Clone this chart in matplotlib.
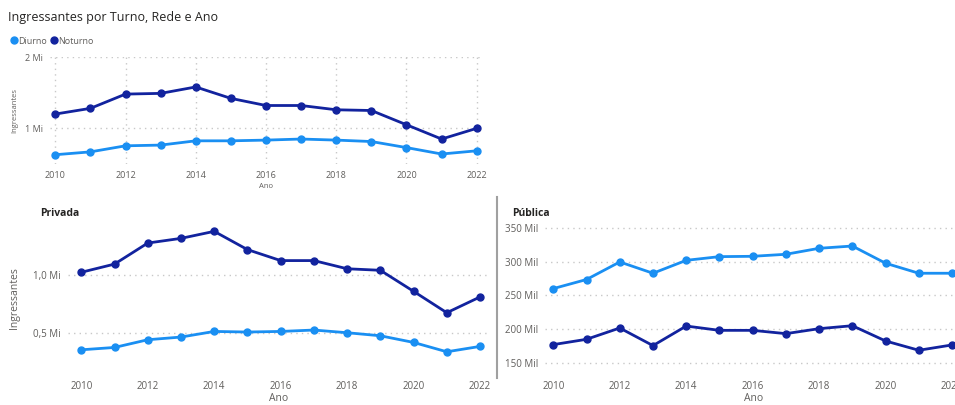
import matplotlib
matplotlib.use("Agg")
import matplotlib.pyplot as plt
from matplotlib.ticker import FixedLocator

plt.rcParams['font.family'] = ['Open Sans', 'DejaVu Sans']

# Dados
anos = list(range(2010, 2023))

# Total (Mi)
total_diurno = [0.63, 0.67, 0.755, 0.765, 0.825, 0.825, 0.835, 0.85, 0.835, 0.815, 0.73, 0.64, 0.685]
total_noturno = [1.20, 1.28, 1.48, 1.49, 1.58, 1.42, 1.32, 1.32, 1.26, 1.25, 1.05, 0.85, 1.00]

# Privada (Mi)
privada_diurno = [0.357, 0.377, 0.443, 0.466, 0.514, 0.509, 0.514, 0.526, 0.503, 0.477, 0.42, 0.34, 0.386]
privada_noturno = [1.02, 1.09, 1.27, 1.31, 1.37, 1.214, 1.12, 1.12, 1.05, 1.037, 0.857, 0.674, 0.809]

# Pública (Mil)
publica_diurno = [260, 273.5, 299.6, 282.8, 302, 307.5, 308, 311, 319.9, 323.3, 297.7, 282.8, 282.8]
publica_noturno = [176.7, 184.6, 201.4, 175.2, 204.3, 197.9, 197.9, 193, 200.4, 204.8, 182.1, 168.3, 176.2]

COR_DIURNO = "#1A8FF2"
COR_NOTURNO = "#12239E"
COR_TEXTO = "#605E5C"
COR_GRADE = "#C8C8C8"

W, H = 955, 405
fig = plt.figure(figsize=(W / 100, H / 100), dpi=100)


def px_axes(x0, y0, x1, y1):
    # retângulo em pixels (topo-esquerda) -> fração da figura
    return fig.add_axes([x0 / W, 1 - y1 / H, (x1 - x0) / W, (y1 - y0) / H])


def estilo(ax, fs):
    for s in ax.spines.values():
        s.set_visible(False)
    ax.tick_params(length=0, labelsize=fs, colors=COR_TEXTO, pad=5)
    ax.set_xticks([2010, 2012, 2014, 2016, 2018, 2020, 2022])
    ax.grid(axis='y', linestyle=(0, (1, 3)), color=COR_GRADE, linewidth=1)


def linhas(ax, diurno, noturno):
    ax.plot(anos, diurno, color=COR_DIURNO, lw=2, marker='o', ms=5, clip_on=False, zorder=3)
    ax.plot(anos, noturno, color=COR_NOTURNO, lw=2, marker='o', ms=5, clip_on=False, zorder=3)


# --- gráfico superior ---
ax1 = px_axes(50, 57, 482, 164)
linhas(ax1, total_diurno, total_noturno)
ax1.set_xlim(2009.85, 2022.15)
ax1.set_ylim(0.5, 2.0)
estilo(ax1, 6.5)
ax1.yaxis.set_major_locator(FixedLocator([1, 2]))
ax1.set_yticklabels(["1 Mi", "2 Mi"])
ax1.grid(axis='x', linestyle=(0, (1, 3)), color=COR_GRADE, linewidth=1)
ax1.set_xlabel("Ano", fontsize=5.5, color=COR_TEXTO, labelpad=2)
ax1.set_ylabel("Ingressantes", fontsize=5.5, color=COR_TEXTO, labelpad=5)

fig.text(8 / W, 1 - 18 / H, "Ingressantes por Turno, Rede e Ano", fontsize=9,
         color="#252423", va='center', ha='left')
fig.legend(handles=ax1.lines, labels=["Diurno", "Noturno"], loc='center left',
           bbox_to_anchor=(4 / W, 1 - 41 / H), ncol=2, frameon=False, fontsize=6.5,
           handlelength=0.5, handletextpad=0.2, columnspacing=0.5, markerscale=1.0,
           labelcolor=COR_TEXTO)
for h in fig.legends[0].legend_handles:
    h.set_linestyle('None')

# --- Privada ---
ax2 = px_axes(68, 222, 490, 374)
linhas(ax2, privada_diurno, privada_noturno)
ax2.set_xlim(2009.6, 2022.3)
ax2.set_ylim(0.15, 1.45)
estilo(ax2, 7)
ax2.yaxis.set_major_locator(FixedLocator([0.5, 1.0]))
ax2.set_yticklabels(["0,5 Mi", "1,0 Mi"])
ax2.set_xlabel("Ano", fontsize=7.5, color=COR_TEXTO, labelpad=1)
ax2.set_ylabel("Ingressantes", fontsize=7.5, color=COR_TEXTO, labelpad=10)
fig.text(40 / W, 1 - 213 / H, "Privada", fontsize=7.5, fontweight='bold',
         color="#252423", va='center', ha='left')

# --- Pública ---
ax3 = px_axes(545, 222, 962, 374)
linhas(ax3, publica_diurno, publica_noturno)
ax3.set_xlim(2009.75, 2022.3)
ax3.set_ylim(133, 359)
estilo(ax3, 7)
ax3.yaxis.set_major_locator(FixedLocator([150, 200, 250, 300, 350]))
ax3.set_yticklabels(["150 Mil", "200 Mil", "250 Mil", "300 Mil", "350 Mil"])
ax3.set_xlabel("Ano", fontsize=7.5, color=COR_TEXTO, labelpad=1)
fig.text(512 / W, 1 - 213 / H, "Pública", fontsize=7.5, fontweight='bold',
         color="#252423", va='center', ha='left')

# separador vertical
fig.add_artist(plt.Line2D([497 / W, 497 / W], [1 - 197 / H, 1 - 378 / H],
                          color="#A0A0A0", lw=1.5))

fig.savefig("out.png", dpi=100, facecolor='white')
